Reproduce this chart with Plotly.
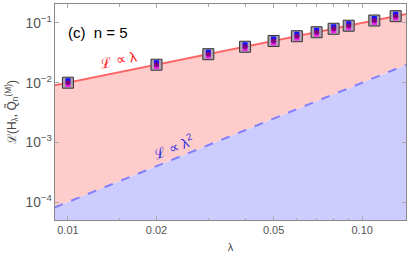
import plotly.graph_objects as go

# data
lam = [0.01, 0.02, 0.03, 0.04, 0.05, 0.06, 0.07, 0.08, 0.09, 0.11, 0.13]
L_frame = [0.0100, 0.0200, 0.0300, 0.0400, 0.0500, 0.0600, 0.0700, 0.0800, 0.0900, 0.1100, 0.1300]
L_blue = [0.0108, 0.0216, 0.0324, 0.0432, 0.0540, 0.0648, 0.0756, 0.0864, 0.0972, 0.1188, 0.1404]
L_magenta = [0.0093, 0.0186, 0.0279, 0.0372, 0.0465, 0.0558, 0.0651, 0.0744, 0.0837, 0.1023, 0.1209]
L_purple = [0.0100, 0.0200, 0.0300, 0.0400, 0.0500, 0.0600, 0.0700, 0.0800, 0.0900, 0.1100, 0.1300]

line_x = [0.009, 0.142]
line_lin = [0.009, 0.142]          # L ∝ λ
line_sq = [0.000081, 0.020164]     # L ∝ λ²
base = [1e-6, 1e-6]

xtick_vals = [0.01, 0.02, 0.05, 0.10]
xtick_text = ["0.01", "0.02", "0.05", "0.10"]
xminor_vals = [0.015, 0.03, 0.04, 0.06, 0.07, 0.08, 0.09]

fig = go.Figure()
fig.add_trace(go.Scatter(x=line_x, y=base, mode="lines", line=dict(width=0), showlegend=False, hoverinfo="skip"))
fig.add_trace(go.Scatter(x=line_x, y=line_sq, mode="lines", fill="tonexty", fillcolor="#ccccff",
                         line=dict(color="#8080ff", width=2, dash="dash"), showlegend=False))
fig.add_trace(go.Scatter(x=line_x, y=line_lin, mode="lines", fill="tonexty", fillcolor="#ffcccc",
                         line=dict(color="#ff6666", width=2), showlegend=False))

fig.add_trace(go.Scatter(x=lam, y=L_frame, mode="markers", showlegend=False,
                         marker=dict(symbol="square", size=11, color="#b0a0b0", line=dict(color="#333333", width=1))))
fig.add_trace(go.Scatter(x=lam, y=L_blue, mode="markers", showlegend=False,
                         marker=dict(symbol="square", size=5, color="#1010ff", line=dict(width=0))))
fig.add_trace(go.Scatter(x=lam, y=L_magenta, mode="markers", showlegend=False,
                         marker=dict(symbol="square", size=5, color="#ee22ee", line=dict(width=0))))
fig.add_trace(go.Scatter(x=lam, y=L_purple, mode="markers", showlegend=False,
                         marker=dict(symbol="circle", size=5, color="#800080", line=dict(width=0))))

axis_common = dict(showline=True, linecolor="#888888", linewidth=1, mirror="ticks", ticks="inside",
                   tickcolor="#aaaaaa", ticklen=4, showgrid=False, zeroline=False,
                   tickfont=dict(color="#555555", size=11, family="Liberation Sans"))

fig.update_layout(
    width=407, height=261,
    margin=dict(l=55, r=1, t=4, b=41),
    paper_bgcolor="white", plot_bgcolor="white",
    font=dict(family="Liberation Sans"),
    xaxis=dict(type="log", range=[-2.044, -0.851], tickvals=xtick_vals, ticktext=xtick_text,
               minor=dict(tickvals=xminor_vals, ticks="inside", ticklen=2.5, tickcolor="#aaaaaa"),
               title=dict(text="λ", font=dict(size=11, color="#444444"), standoff=8),
               **axis_common),
    yaxis=dict(type="log", range=[-4.30, -0.682], dtick=1, exponentformat="power",
               title=dict(text="ℒ(H<sub>λ</sub>, Q̃<sub>n</sub><sup>(M)</sup>)", font=dict(size=12, color="#444444"), standoff=6),
               **axis_common),
    annotations=[
        dict(text="(c)  n = 5", x=0.03, y=0.87, xref="paper", yref="paper", showarrow=False,
             xanchor="left", yanchor="middle", font=dict(size=15, color="black")),
        dict(text="ℒ ∝ λ", x=0.18, y=0.74, xref="paper", yref="paper", showarrow=False,
             xanchor="center", yanchor="middle",
             textangle=-11.5, font=dict(size=14, color="#ff2020")),
        dict(text="ℒ ∝ λ<sup>2</sup>", x=0.335, y=0.34, xref="paper", yref="paper", showarrow=False,
             xanchor="center", yanchor="middle",
             textangle=-22, font=dict(size=14, color="#3030dd")),
    ],
)

fig.write_html("out.html", config={"displayModeBar": False},
               post_script="document.body.style.margin='0';document.body.style.padding='0';")
